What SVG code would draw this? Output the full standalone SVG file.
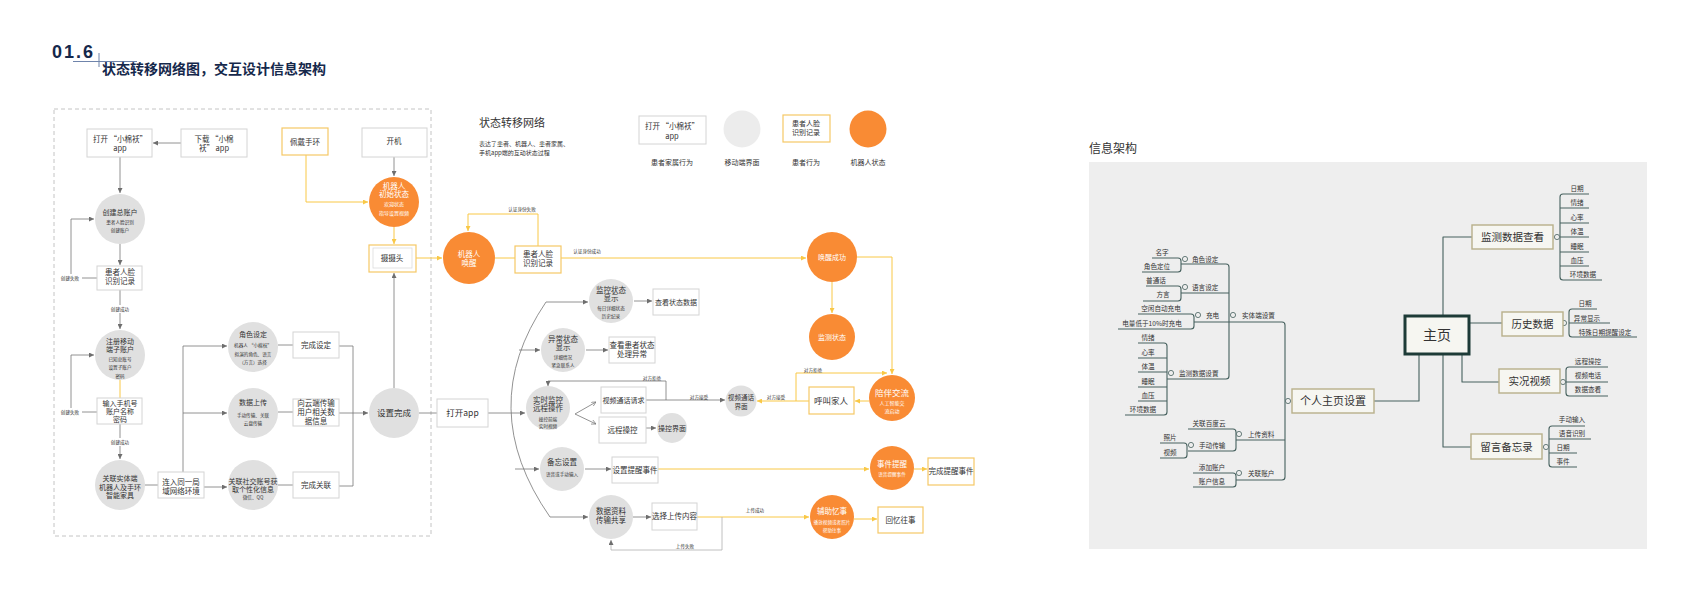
<svg xmlns="http://www.w3.org/2000/svg" width="1697" height="600" viewBox="0 0 1697 600">
<style>
text{font-family:'Noto Sans CJK SC','Noto Sans',sans-serif;fill:#333}
.c{text-anchor:middle}
.w{fill:#fff}
.s4{font-size:4.6px}.s5{font-size:5px}.s6{font-size:6px}.s65{font-size:6.6px}.s7{font-size:7px}.s75{font-size:7.5px}.s8{font-size:8.5px}
.box{fill:#fff;stroke:#d4d4d4;stroke-width:1}
.ybox{fill:#fff;stroke:#f6c866;stroke-width:1.2}
.gc{fill:#e0e0e0}
.oc{fill:#f98b34}
.gl{stroke:#767676;fill:none;stroke-width:0.8}
.ll{stroke:#b0b0b0;fill:none;stroke-width:0.8}
.yl{stroke:#f9c846;fill:none;stroke-width:1}
.ml{stroke:#46615e;fill:none;stroke-width:1.1;stroke-linejoin:round}
.mt{font-size:6.6px}
.mb{fill:#f6f6f1;stroke:#b8b08a;stroke-width:1.4}
.mc{fill:#eee;stroke:#46615e;stroke-width:0.8}
</style>
<defs>
<marker id="ag" viewBox="0 0 6 6" refX="6" refY="3" markerWidth="5" markerHeight="5" orient="auto" markerUnits="userSpaceOnUse"><path d="M0,0L6,3L0,6z" fill="#6e6e6e"/></marker>
<marker id="ay" viewBox="0 0 6 6" refX="6" refY="3" markerWidth="5" markerHeight="5" orient="auto" markerUnits="userSpaceOnUse"><path d="M0,0L6,3L0,6z" fill="#f9c846"/></marker>
<marker id="ao" viewBox="0 0 6 6" refX="6" refY="3" markerWidth="5" markerHeight="5" orient="auto" markerUnits="userSpaceOnUse"><path d="M0,0L6,3L0,6" fill="none" stroke="#767676" stroke-width="0.8"/></marker>
</defs>
<rect width="1697" height="600" fill="#fff"/>

<g id="heading">
<text x="52" y="58" style="font-family:'Liberation Sans',sans-serif;font-weight:bold;font-size:18px;letter-spacing:2px;fill:#15284b">01.6</text>
<line x1="73" y1="61.5" x2="137" y2="61.5" stroke="#6f84ab" stroke-width="1"/>
<line x1="99" y1="53" x2="99" y2="67" stroke="#6f84ab" stroke-width="1"/>
<text x="102" y="74" style="font-weight:bold;font-size:14px;fill:#15284b">状态转移网络图，交互设计信息架构</text>
</g>

<rect id="frame" x="54" y="109" width="377" height="427" fill="none" stroke="#bdbdbd" stroke-width="0.9" stroke-dasharray="4 3"/>

<g id="legend">
<text x="479" y="127" style="font-size:11px">状态转移网络</text>
<text x="479" y="146" class="s6">表达了患者、机器人、患者家属、</text>
<text x="479" y="155" class="s6">手机app端的互动状态过程</text>
<rect class="box" x="639" y="116" width="67" height="28"/>
<text x="672" y="129" class="c s75">打开 “小棉袄”</text>
<text x="672" y="139" class="c s75">app</text>
<text x="672" y="165" class="c s7">患者家属行为</text>
<circle cx="742" cy="129" r="18.5" fill="#ececec"/>
<text x="742" y="165" class="c s7">移动端界面</text>
<rect class="ybox" x="783" y="115" width="47" height="27"/>
<text x="806" y="126" class="c s7">患者人脸</text>
<text x="806" y="135" class="c s7">识别记录</text>
<text x="806" y="165" class="c s7">患者行为</text>
<circle class="oc" cx="868" cy="129" r="18.5"/>
<text x="868" y="165" class="c s7">机器人状态</text>
</g>

<g id="connectors">
<line class="gl" x1="181" y1="143" x2="153" y2="143" marker-end="url(#ag)"/>
<line class="gl" x1="120" y1="157" x2="120" y2="193" marker-end="url(#ag)"/>
<line class="gl" x1="120" y1="244" x2="120" y2="265" marker-end="url(#ag)"/>
<line class="gl" x1="82" y1="278" x2="97" y2="278"/>
<path class="gl" d="M71,274V219H94" marker-end="url(#ag)"/>
<line class="gl" x1="120" y1="290" x2="120" y2="305"/>
<line class="gl" x1="120" y1="313" x2="120" y2="329" marker-end="url(#ag)"/>
<line class="yl" x1="120" y1="380" x2="120" y2="398"/>
<line class="gl" x1="82" y1="412" x2="97" y2="412"/>
<path class="gl" d="M71,408V355H94" marker-end="url(#ag)"/>
<line class="gl" x1="120" y1="424" x2="120" y2="438"/>
<line class="gl" x1="120" y1="446" x2="120" y2="459" marker-end="url(#ag)"/>
<line class="gl" x1="145" y1="485" x2="158" y2="485"/>
<line class="gl" x1="204" y1="487" x2="227" y2="487" marker-end="url(#ag)"/>
<path class="gl" d="M183,472V346H227" marker-end="url(#ag)"/>
<line class="gl" x1="183" y1="413" x2="227" y2="413" marker-end="url(#ag)"/>
<line class="gl" x1="278" y1="345" x2="293" y2="345"/>
<line class="gl" x1="278" y1="412" x2="293" y2="412"/>
<line class="gl" x1="278" y1="485" x2="293" y2="485"/>
<path class="gl" d="M339,346H353V486H339"/>
<line class="gl" x1="339" y1="413" x2="368" y2="413" marker-end="url(#ag)"/>
<line class="gl" x1="394" y1="388" x2="394" y2="273" marker-end="url(#ag)"/>
<line class="gl" x1="419" y1="413" x2="437" y2="413"/>
<line class="gl" x1="394" y1="157" x2="394" y2="176" marker-end="url(#ag)"/>
<path class="yl" d="M306,155V202H368" marker-end="url(#ay)"/>
<line class="yl" x1="394" y1="227" x2="394" y2="244" marker-end="url(#ay)"/>
<line class="yl" x1="416" y1="258" x2="442" y2="258" marker-end="url(#ay)"/>
<line class="yl" x1="495" y1="258" x2="515" y2="258"/>
<path class="yl" d="M538,246V214H468V231" marker-end="url(#ay)"/>
<line class="yl" x1="561" y1="258" x2="806" y2="258" marker-end="url(#ay)"/>
<line class="yl" x1="832" y1="282" x2="832" y2="313" marker-end="url(#ay)"/>
<path class="yl" d="M857,257H892V374" marker-end="url(#ay)"/>
<line class="yl" x1="869" y1="401" x2="855" y2="401" marker-end="url(#ay)"/>
<line class="yl" x1="809" y1="401" x2="757" y2="401" marker-end="url(#ay)"/>
<path class="yl" d="M796,401V373H887" marker-end="url(#ay)"/>
<line class="gl" x1="488" y1="413" x2="525" y2="413" marker-end="url(#ag)"/>
<path class="gl" d="M546,302Q474,408 550,517"/>
<line class="gl" x1="546" y1="302" x2="588" y2="302" marker-end="url(#ag)"/>
<line class="gl" x1="519" y1="350" x2="540" y2="350" marker-end="url(#ag)"/>
<line class="gl" x1="515" y1="469" x2="539" y2="469" marker-end="url(#ag)"/>
<line class="gl" x1="550" y1="517" x2="588" y2="517" marker-end="url(#ag)"/>
<line class="gl" x1="634" y1="301" x2="652" y2="301" marker-end="url(#ag)"/>
<line class="gl" x1="586" y1="350" x2="608" y2="350" marker-end="url(#ag)"/>
<line class="gl" x1="575" y1="414" x2="596" y2="402" marker-end="url(#ao)"/>
<line class="gl" x1="575" y1="414" x2="596" y2="424" marker-end="url(#ao)"/>
<line class="gl" x1="646" y1="400" x2="725" y2="400" marker-end="url(#ag)"/>
<path class="gl" d="M666,400V381H548V386" marker-end="url(#ag)"/>
<line class="gl" x1="646" y1="428" x2="656" y2="428" marker-end="url(#ag)"/>
<line class="gl" x1="585" y1="469" x2="611" y2="469" marker-end="url(#ag)"/>
<line class="yl" x1="658" y1="469" x2="869" y2="469" marker-end="url(#ay)"/>
<line class="yl" x1="914" y1="469" x2="927" y2="469" marker-end="url(#ay)"/>
<line class="gl" x1="633" y1="517" x2="651" y2="517" marker-end="url(#ag)"/>
<line class="yl" x1="697" y1="517" x2="809" y2="517" marker-end="url(#ay)"/>
<path class="ll" d="M722,517V550H611V540" marker-end="url(#ag)"/>
<line class="yl" x1="854" y1="519" x2="877" y2="519" marker-end="url(#ay)"/>
<g class="s4">
<text x="70" y="280" class="c s4">创建失败</text>
<text x="120" y="311" class="c s4">创建成功</text>
<text x="70" y="414" class="c s4">创建失败</text>
<text x="120" y="444" class="c s4">创建成功</text>
<text x="522" y="211" class="c s4">认证身份失败</text>
<text x="587" y="253" class="c s4">认证身份成功</text>
<text x="813" y="372" class="c s4">对方拒绝</text>
<text x="776" y="399" class="c s4">对方接受</text>
<text x="699" y="399" class="c s4">对方接受</text>
<text x="652" y="380" class="c s4">对方拒绝</text>
<text x="755" y="512" class="c s4">上传成功</text>
<text x="685" y="548" class="c s4">上传失败</text>
</g>
</g>

<g id="n-open"><rect class="box" x="87" y="129" width="65" height="28"/><text x="120" y="141.5" class="c s75">打开 “小棉袄”</text><text x="120" y="151" class="c s75">app</text></g>
<g id="n-download"><rect class="box" x="181" y="129" width="66" height="28"/><text x="214" y="141.5" class="c s75">下载 “小棉</text><text x="214" y="151" class="c s75">袄” app</text></g>
<g id="n-create"><circle class="gc" cx="120" cy="219" r="25"/><text x="120" y="214.5" class="c s7">创建总账户</text><text x="120" y="224" class="c s4">患者人脸识别</text><text x="120" y="232" class="c s4">创建账户</text></g>
<g id="n-face1"><rect class="box" x="97" y="266" width="45" height="24"/><text x="120" y="275" class="c s75">患者人脸</text><text x="120" y="284" class="c s75">识别记录</text></g>
<g id="n-register"><circle class="gc" cx="120" cy="355" r="25"/><text x="120" y="343.5" class="c s7">注册移动</text><text x="120" y="352" class="c s7">端子账户</text><text x="120" y="361" class="c s4">已知总账号</text><text x="120" y="369" class="c s4">设置子账户</text><text x="120" y="377.5" class="c s4">密码</text></g>
<g id="n-input"><rect class="box" x="97" y="398" width="45" height="26"/><text x="120" y="405.5" class="c s7">输入手机号</text><text x="120" y="413.5" class="c s7">账户名称</text><text x="120" y="422" class="c s7">密码</text></g>
<g id="n-link"><circle class="gc" cx="120" cy="485" r="25"/><text x="120" y="480.5" class="c s7">关联实体端</text><text x="120" y="489.5" class="c s7">机器人及手环</text><text x="120" y="498" class="c s7">智能家具</text></g>
<g id="n-lan"><rect class="box" x="158" y="472" width="46" height="26"/><text x="181" y="484.5" class="c s75">连入同一局</text><text x="181" y="493.5" class="c s75">域网络环境</text></g>
<g id="n-role"><circle class="gc" cx="253" cy="347" r="25"/><text x="253" y="336.5" class="c s7">角色设定</text><text x="253" y="346.5" class="c s4">机器人 “小棉袄”</text><text x="253" y="355.5" class="c s4">拟演的角色、语言</text><text x="253" y="364" class="c s4">（方言）选择</text></g>
<g id="n-upload"><circle class="gc" cx="253" cy="413" r="25"/><text x="253" y="404.5" class="c s7">数据上传</text><text x="253" y="416.5" class="c s4">手动传输、关联</text><text x="253" y="424.5" class="c s4">云盘传输</text></g>
<g id="n-social"><circle class="gc" cx="253" cy="485" r="25"/><text x="253" y="483.5" class="c s7">关联社交账号获</text><text x="253" y="491.5" class="c s7">取个性化信息</text><text x="253" y="498.5" class="c s4">微信、QQ</text></g>
<g id="n-doneSet"><rect class="box" x="293" y="332" width="46" height="26"/><text x="316" y="347.5" class="c s75">完成设定</text></g>
<g id="n-cloud"><rect class="box" x="293" y="399" width="46" height="27"/><text x="316" y="405.5" class="c s75">向云端传输</text><text x="316" y="415" class="c s75">用户相关数</text><text x="316" y="424" class="c s75">据信息</text></g>
<g id="n-doneLink"><rect class="box" x="293" y="472" width="46" height="26"/><text x="316" y="487.5" class="c s75">完成关联</text></g>
<g id="n-setupDone"><circle class="gc" cx="394" cy="413" r="25"/><text x="394" y="416" class="c s8">设置完成</text></g>
<g id="n-wear"><rect class="ybox" x="282" y="128" width="46" height="27"/><text x="305" y="144.5" class="c s75">佩戴手环</text></g>
<g id="n-power"><rect class="box" x="362" y="128" width="65" height="29"/><text x="394" y="143.5" class="c s75">开机</text></g>
<g id="n-robotInit"><circle class="oc" cx="394" cy="202" r="25"/><text x="394" y="188.5" class="c s75 w">机器人</text><text x="394" y="197" class="c s75 w">初始状态</text><text x="394" y="206" class="c s5 w">欢迎状态</text><text x="394" y="215" class="c s5 w">指导设置视频</text></g>
<g id="n-camera"><rect class="ybox" x="369" y="245" width="47" height="27"/><rect x="373" y="248" width="39" height="20" fill="#fff" stroke="#dcdcdc" stroke-width="0.8"/><text x="392" y="261" class="c s75">摄摄头</text></g>
<g id="n-robotWake"><circle class="oc" cx="469" cy="258" r="26"/><text x="469" y="256.5" class="c s75 w">机器人</text><text x="469" y="265.5" class="c s75 w">唤醒</text></g>
<g id="n-face2"><rect class="ybox" x="515" y="246" width="46" height="27"/><text x="538" y="256.5" class="c s75">患者人脸</text><text x="538" y="265.5" class="c s75">识别记录</text></g>
<g id="n-wakeOk"><circle class="oc" cx="832" cy="257" r="25"/><text x="832" y="259.5" class="c s7 w">唤醒成功</text></g>
<g id="n-monitor"><circle class="oc" cx="832" cy="337" r="23"/><text x="832" y="339.5" class="c s7 w">监测状态</text></g>
<g id="n-companion"><circle class="oc" cx="892" cy="398" r="23"/><text x="892" y="396" class="c s8 w">陪伴交流</text><text x="892" y="405" class="c s5 w">人工智能交</text><text x="892" y="413" class="c s5 w">流启动</text></g>
<g id="n-call"><rect class="ybox" x="809" y="387" width="45" height="27"/><text x="831" y="404" class="c s8">呼叫家人</text></g>
<g id="n-videoUI"><circle class="gc" cx="741" cy="401" r="15.5"/><text x="741" y="399.5" class="c s65">视频通话</text><text x="741" y="408.5" class="c s65">界面</text></g>
<g id="n-videoReq"><rect class="box" x="601" y="387" width="45" height="26"/><text x="623.5" y="402.5" class="c s7">视频通话请求</text></g>
<g id="n-realtime"><circle class="gc" cx="548" cy="408" r="22"/><text x="548" y="402.5" class="c s75">实时监控</text><text x="548" y="410.5" class="c s75">远程操作</text><text x="548" y="420.5" class="c s4">操控前端</text><text x="548" y="428" class="c s4">实时视频</text></g>
<g id="n-remote"><rect class="box" x="599" y="417" width="47" height="26"/><text x="622.5" y="432.5" class="c s75">远程操控</text></g>
<g id="n-ctrlUI"><circle class="gc" cx="672" cy="428" r="15"/><text x="672" y="430.5" class="c s7">操控界面</text></g>
<g id="n-monState"><circle class="gc" cx="611" cy="301" r="22"/><text x="611" y="292.5" class="c s75">监控状态</text><text x="611" y="300.5" class="c s75">显示</text><text x="611" y="309.5" class="c s4">每日详细状态</text><text x="611" y="318" class="c s4">历史纪录</text></g>
<g id="n-viewData"><rect class="box" x="653" y="289" width="46" height="26"/><text x="676" y="304.5" class="c s7">查看状态数据</text></g>
<g id="n-abnormal"><circle class="gc" cx="563" cy="350" r="22"/><text x="563" y="341.5" class="c s75">异常状态</text><text x="563" y="350" class="c s75">显示</text><text x="563" y="358.5" class="c s4">详细情况</text><text x="563" y="367" class="c s4">紧急联系人</text></g>
<g id="n-viewPatient"><rect class="box" x="609" y="337" width="46" height="26"/><text x="632" y="347.5" class="c s75">查看患者状态</text><text x="632" y="356.5" class="c s75">处理异常</text></g>
<g id="n-memo"><circle class="gc" cx="562" cy="469" r="22"/><text x="562" y="464.5" class="c s75">备忘设置</text><text x="562" y="475.5" class="c s4">语音或手动输入</text></g>
<g id="n-setReminder"><rect class="box" x="612" y="457" width="46" height="26"/><text x="635" y="472.5" class="c s75">设置提醒事件</text></g>
<g id="n-eventRemind"><circle class="oc" cx="892" cy="468" r="22"/><text x="892" y="466.5" class="c s75 w">事件提醒</text><text x="892" y="475.5" class="c s4 w">语音提醒事件</text></g>
<g id="n-doneReminder"><rect class="ybox" x="928" y="458" width="46" height="27"/><text x="951" y="474" class="c s75">完成提醒事件</text></g>
<g id="n-share"><circle class="gc" cx="611" cy="517" r="22"/><text x="611" y="513.5" class="c s75">数据资料</text><text x="611" y="522.5" class="c s75">传输共享</text></g>
<g id="n-selectUpload"><rect class="box" x="652" y="503" width="45" height="27"/><text x="674.5" y="519" class="c s75">选择上传内容</text></g>
<g id="n-assist"><circle class="oc" cx="832" cy="517" r="22"/><text x="832" y="513.5" class="c s75 w">辅助忆事</text><text x="832" y="523.5" class="c s4 w">播放视频或者照片</text><text x="832" y="531.5" class="c s4 w">帮助往事</text></g>
<g id="n-recall"><rect class="ybox" x="878" y="507" width="45" height="26"/><text x="900.5" y="522.5" class="c s75">回忆往事</text></g>
<g id="n-openApp"><rect class="box" x="437" y="399" width="51" height="28"/><text x="462.5" y="416" class="c s8">打开app</text></g>

<text x="1089" y="153" style="font-size:12px">信息架构</text>
<rect x="1089" y="162" width="558" height="387" fill="#eeeeee"/>

<g id="mm-connectors">
<path class="ml" d="M1152,258H1178Q1181,258 1181,261V269Q1181,272 1178,272H1142"/>
<path class="ml" d="M1181,264H1226Q1229,264 1229,267V376Q1229,379 1226,379H1167"/>
<path class="ml" d="M1146,286H1178Q1181,286 1181,289V298Q1181,301 1178,301H1143"/>
<path class="ml" d="M1181,293H1229"/>
<path class="ml" d="M1138,314H1191Q1194,314 1194,317V326Q1194,329 1191,329H1118"/>
<path class="ml" d="M1194,322H1282Q1285,322 1285,325V477Q1285,480 1282,480H1236"/>
<path class="ml" d="M1138,343H1164Q1167,343 1167,346V412Q1167,415 1164,415H1125"/>
<path class="ml" d="M1138,358H1167M1138,372H1167M1138,387H1167M1138,401H1167"/>
<path class="ml" d="M1188,429H1233Q1236,429 1236,432V448Q1236,451 1233,451H1188"/>
<path class="ml" d="M1236,440H1285"/>
<path class="ml" d="M1160,443H1184Q1187,443 1187,446V455Q1187,458 1184,458H1160"/>
<path class="ml" d="M1193,473H1233Q1236,473 1236,476V484Q1236,487 1233,487H1193"/>
<path class="ml" d="M1374,401H1419V354"/>
<path class="ml" d="M1443,316V237H1472"/>
<path class="ml" d="M1469,323H1502"/>
<path class="ml" d="M1462,354V382H1499"/>
<path class="ml" d="M1443,354V447H1471"/>
<path class="ml" d="M1589,194H1563Q1560,194 1560,197V277Q1560,280 1563,280H1602"/>
<path class="ml" d="M1560,208H1589M1560,223H1589M1560,237H1589M1560,252H1589M1560,266H1589"/>
<path class="ml" d="M1597,309H1572Q1569,309 1569,312V334Q1569,337 1572,337H1637"/>
<path class="ml" d="M1569,323H1610"/>
<path class="ml" d="M1608,367H1569Q1566,367 1566,370V393Q1566,396 1569,396H1608"/>
<path class="ml" d="M1566,382H1608"/>
<path class="ml" d="M1585,426H1552Q1549,426 1549,429V464Q1549,467 1552,467H1577"/>
<path class="ml" d="M1549,439H1591M1549,453H1577"/>
<circle class="mc" cx="1185" cy="259" r="2.6"/>
<circle class="mc" cx="1185" cy="287" r="2.6"/>
<circle class="mc" cx="1198" cy="315" r="2.6"/>
<circle class="mc" cx="1233" cy="315" r="2.6"/>
<circle class="mc" cx="1171" cy="373" r="2.6"/>
<circle class="mc" cx="1191" cy="445" r="2.6"/>
<circle class="mc" cx="1239" cy="434" r="2.6"/>
<circle class="mc" cx="1239" cy="473" r="2.6"/>
<circle class="mc" cx="1288" cy="401" r="2.6"/>
<circle class="mc" cx="1557" cy="237" r="2.6"/>
<circle class="mc" cx="1564" cy="323" r="2.6"/>
<circle class="mc" cx="1563" cy="382" r="2.6"/>
<circle class="mc" cx="1546" cy="447" r="2.6"/>
</g>

<g id="mm-entity">
<text x="1162" y="254.5" class="c mt">名字</text>
<text x="1157" y="268.5" class="c mt">角色定位</text>
<text x="1192" y="261.5" class="mt">角色设定</text>
<text x="1156" y="282.5" class="c mt">普通话</text>
<text x="1163" y="297" class="c mt">方言</text>
<text x="1192" y="289.5" class="mt">语言设定</text>
<text x="1161" y="310.5" class="c mt">空闲自动充电</text>
<text x="1152" y="326" class="c mt">电量低于10%时充电</text>
<text x="1206" y="317.5" class="mt">充电</text>
<text x="1242" y="317.5" class="mt">实体端设置</text>
<text x="1148" y="339.5" class="c mt">情绪</text>
<text x="1148" y="354.5" class="c mt">心率</text>
<text x="1148" y="368.5" class="c mt">体温</text>
<text x="1148" y="383.5" class="c mt">睡眠</text>
<text x="1148" y="397.5" class="c mt">血压</text>
<text x="1143" y="411.5" class="c mt">环境数据</text>
<text x="1179" y="375.5" class="mt">监测数据设置</text>
</g>
<g id="mm-upload">
<text x="1209" y="426" class="c mt">关联百度云</text>
<text x="1199" y="447.5" class="mt">手动传输</text>
<text x="1170" y="439.5" class="c mt">照片</text>
<text x="1170" y="454.5" class="c mt">视频</text>
<text x="1248" y="436.5" class="mt">上传资料</text>
<text x="1212" y="469.5" class="c mt">添加账户</text>
<text x="1212" y="483.5" class="c mt">账户信息</text>
<text x="1248" y="475.5" class="mt">关联账户</text>
</g>
<g id="mm-profile"><rect class="mb" x="1292" y="389" width="82" height="24"/><text x="1333" y="405" class="c" style="font-size:11px">个人主页设置</text></g>
<g id="mm-home"><rect x="1405" y="316" width="64" height="38" fill="#f6f6f1" stroke="#1d3b37" stroke-width="3"/><text x="1437" y="340" class="c" style="font-size:14px">主页</text></g>
<g id="mm-monitor"><rect class="mb" x="1472" y="225" width="81" height="24"/><text x="1512.5" y="241" class="c" style="font-size:10.5px">监测数据查看</text>
<text x="1577" y="190.5" class="c mt">日期</text><text x="1577" y="204.5" class="c mt">情绪</text><text x="1577" y="219.5" class="c mt">心率</text><text x="1577" y="233.5" class="c mt">体温</text><text x="1577" y="248.5" class="c mt">睡眠</text><text x="1577" y="262.5" class="c mt">血压</text><text x="1583" y="276.5" class="c mt">环境数据</text></g>
<g id="mm-history"><rect class="mb" x="1502" y="312" width="61" height="24"/><text x="1532.5" y="328" class="c" style="font-size:10.5px">历史数据</text>
<text x="1585" y="305.5" class="c mt">日期</text><text x="1587" y="320.5" class="c mt">异常显示</text><text x="1605" y="334.5" class="c mt">特殊日期提醒设定</text></g>
<g id="mm-live"><rect class="mb" x="1499" y="369" width="61" height="24"/><text x="1529.5" y="385" class="c" style="font-size:10.5px">实况视频</text>
<text x="1588" y="363.5" class="c mt">远程操控</text><text x="1588" y="378" class="c mt">视频电话</text><text x="1588" y="392" class="c mt">数据查看</text></g>
<g id="mm-memo"><rect class="mb" x="1471" y="434" width="71" height="25"/><text x="1506.5" y="450.5" class="c" style="font-size:10.5px">留言备忘录</text>
<text x="1572" y="422" class="c mt">手动输入</text><text x="1572" y="435.5" class="c mt">语音识别</text><text x="1563" y="450" class="c mt">日期</text><text x="1563" y="464" class="c mt">事件</text></g>
</svg>
